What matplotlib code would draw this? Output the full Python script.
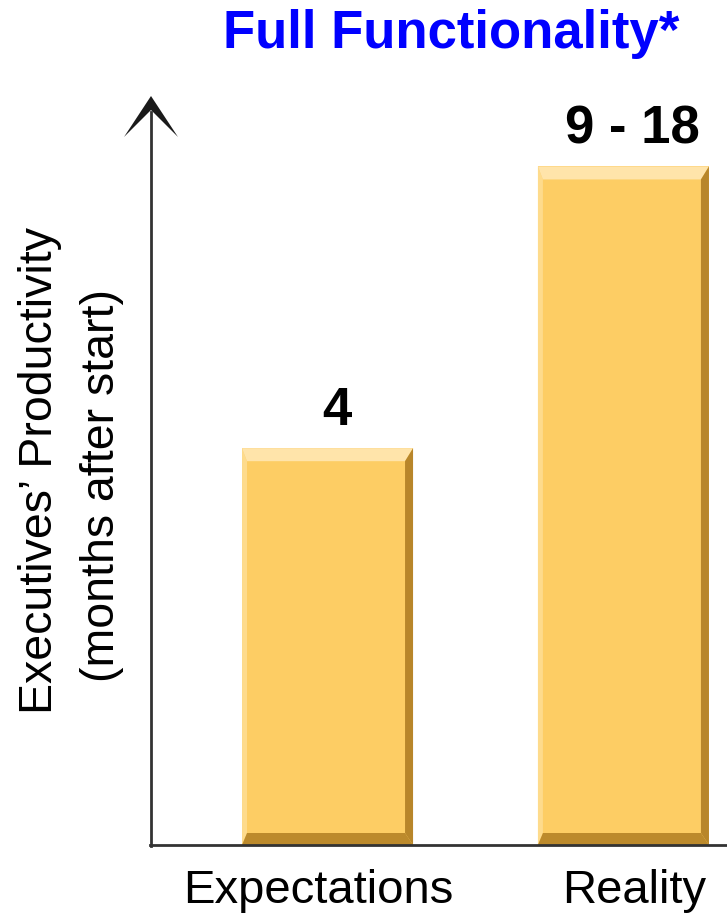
import matplotlib
matplotlib.use("Agg")
from matplotlib import pyplot as plt
from matplotlib.patches import Polygon
from matplotlib.transforms import ScaledTranslation

plt.rcParams['font.family'] = ['Liberation Sans', 'DejaVu Sans']

# 数据
categories = ["Expectations", "Reality"]
values = [4, 6.84]
value_labels = ["4", "9 - 18"]

W, H = 727, 913
fig = plt.figure(figsize=(W / 100, H / 100), dpi=100)
ax = fig.add_axes([150 / W, 68 / H, 577 / W, 748 / H])

face = "#FDCD64"
x = range(len(categories))
bars = ax.bar(x, values, width=0.578, color=face, edgecolor="none", zorder=2)

ax.set_xlim(-0.6, 1.35)
ax.set_ylim(0, 7.54)

# 斜面效果（像素 -> 数据单位）
px_x = 0.578 / 171
px_y = 4 / 397
for b in bars:
    x0, y0 = b.get_x(), b.get_y()
    x1, y1 = x0 + b.get_width(), y0 + b.get_height()
    t, bt = 13 * px_y, 12 * px_y
    l, r = 5 * px_x, 8 * px_x
    top = [(x0, y1), (x1, y1), (x1 - r, y1 - t), (x0 + l, y1 - t)]
    right = [(x1, y1), (x1, y0), (x1 - r, y0 + bt), (x1 - r, y1 - t)]
    bottom = [(x0, y0), (x1, y0), (x1 - r, y0 + bt), (x0 + l, y0 + bt)]
    left = [(x0, y1), (x0, y0), (x0 + l, y0 + bt), (x0 + l, y1 - t)]
    for pts, c in [(left, "#FEDB8C"), (top, "#FFE4AA"),
                   (right, "#B8862A"), (bottom, "#BC8A2C")]:
        ax.add_patch(Polygon(pts, closed=True, color=c, lw=0, zorder=3))

# 数值标签
for b, lab in zip(bars, value_labels):
    ax.annotate(lab, (b.get_x() + b.get_width() / 2, b.get_height()),
                xytext=(6.5, 16.5), textcoords="offset points",
                ha="center", va="baseline", fontsize=38, fontweight="bold",
                color="black")

# 坐标轴
for s in ["top", "right", "left"]:
    ax.spines[s].set_visible(False)
ax.spines["bottom"].set_color("#333333")
ax.spines["bottom"].set_linewidth(2)
ax.spines["bottom"].set_zorder(4)
ax.set_yticks([])
ax.set_xticks(list(x))
ax.set_xticklabels(categories, fontsize=34)
ax.tick_params(axis="x", length=0, pad=17)

# 两个分类标签稍微错开
for lbl, dx in zip(ax.get_xticklabels(), [-0.09, 0.11]):
    lbl.set_transform(lbl.get_transform() + ScaledTranslation(dx, 0, fig.dpi_scale_trans))

# y 轴竖线和箭头（像素坐标）
def fx(px):
    return px / W

def fy(py):
    return 1 - py / H

fig.add_artist(plt.Line2D([fx(151), fx(151)], [fy(846), fy(112)],
                          color="#333333", lw=2))
fig.add_artist(Polygon([(fx(151), fy(96)), (fx(124), fy(137)), (fx(151), fy(110)),
                        (fx(178), fy(137))], closed=True,
                       transform=fig.transFigure, color="#1a1a1a", lw=0))

# y 轴标题（两行分开写）
fig.text(fx(40), fy(470), "Executives\u2019 Productivity", rotation=90,
         fontsize=33.5, ha="center", va="center")
fig.text(fx(102), fy(485), "(months after start)", rotation=90,
         fontsize=33.5, ha="center", va="center")

fig.text(451 / W, 1 - 34 / H, "Full Functionality*", color="#0000FF",
         fontsize=38, fontweight="bold", ha="center", va="center")

plt.savefig("out.png", dpi=100)
